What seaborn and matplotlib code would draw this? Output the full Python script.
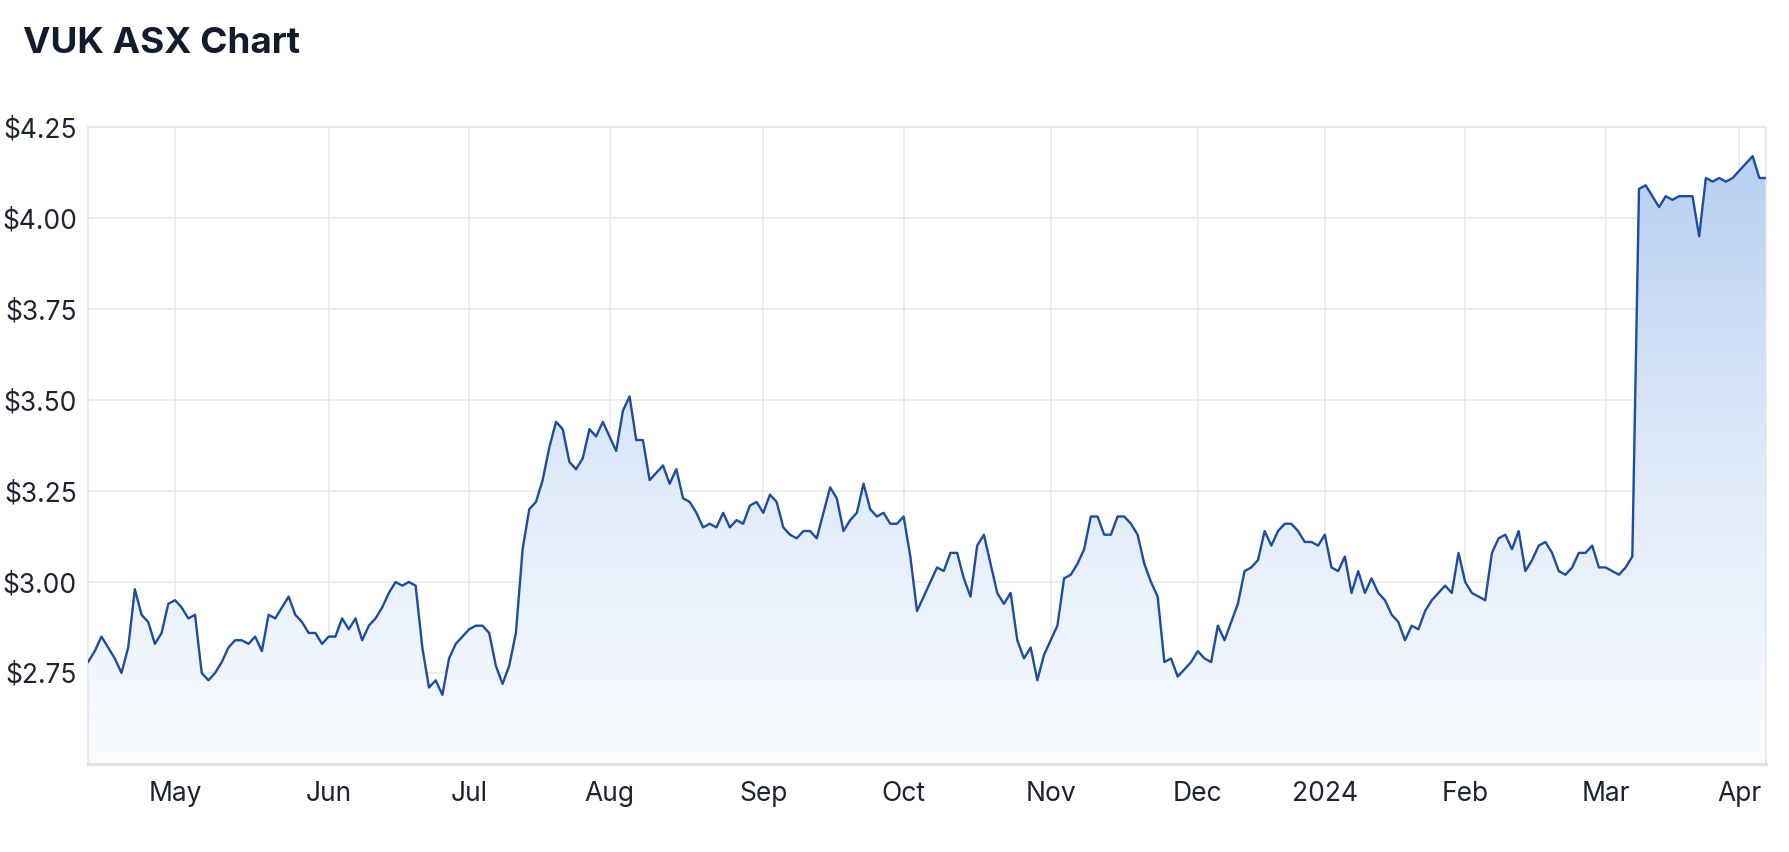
import numpy as np
import pandas as pd
import seaborn as sns
import matplotlib.pyplot as plt
from matplotlib.colors import LinearSegmentedColormap

# ASX trading days, 11 Apr 2023 - 8 Apr 2024
holidays = ['2023-04-25', '2023-06-12', '2023-12-25', '2023-12-26',
            '2024-01-01', '2024-01-26', '2024-03-29', '2024-04-01']

apr23 = [2.78, 2.81, 2.85, 2.82, 2.79, 2.75, 2.82, 2.98, 2.91, 2.89, 2.83, 2.86, 2.94]
may23 = [2.95, 2.93, 2.90, 2.91, 2.75, 2.73, 2.75, 2.78, 2.82, 2.84, 2.84, 2.83,
         2.85, 2.81, 2.91, 2.90, 2.93, 2.96, 2.91, 2.89, 2.86, 2.86, 2.83]
jun23 = [2.85, 2.85, 2.90, 2.87, 2.90, 2.84, 2.88, 2.90, 2.93, 2.97, 3.00, 2.99,
         3.00, 2.99, 2.82, 2.71, 2.73, 2.69, 2.79, 2.83, 2.85]
jul23 = [2.87, 2.88, 2.88, 2.86, 2.77, 2.72, 2.77, 2.86, 3.09, 3.20, 3.22, 3.28,
         3.37, 3.44, 3.42, 3.33, 3.31, 3.34, 3.42, 3.40, 3.44]
aug23 = [3.40, 3.36, 3.47, 3.51, 3.39, 3.39, 3.28, 3.30, 3.32, 3.27, 3.31, 3.23,
         3.22, 3.19, 3.15, 3.16, 3.15, 3.19, 3.15, 3.17, 3.16, 3.21, 3.22]
sep23 = [3.19, 3.24, 3.22, 3.15, 3.13, 3.12, 3.14, 3.14, 3.12, 3.19, 3.26, 3.23,
         3.14, 3.17, 3.19, 3.27, 3.20, 3.18, 3.19, 3.16, 3.16]
oct23 = [3.18, 3.07, 2.92, 2.96, 3.00, 3.04, 3.03, 3.08, 3.08, 3.01, 2.96, 3.10,
         3.13, 3.05, 2.97, 2.94, 2.97, 2.84, 2.79, 2.82, 2.73, 2.80]
nov23 = [2.84, 2.88, 3.01, 3.02, 3.05, 3.09, 3.18, 3.18, 3.13, 3.13, 3.18, 3.18,
         3.16, 3.13, 3.05, 3.00, 2.96, 2.78, 2.79, 2.74, 2.76, 2.78]
dec23 = [2.81, 2.79, 2.78, 2.88, 2.84, 2.89, 2.94, 3.03, 3.04, 3.06, 3.14, 3.10,
         3.14, 3.16, 3.16, 3.14, 3.11, 3.11, 3.10]
jan24 = [3.13, 3.04, 3.03, 3.07, 2.97, 3.03, 2.97, 3.01, 2.97, 2.95, 2.91, 2.89,
         2.84, 2.88, 2.87, 2.92, 2.95, 2.97, 2.99, 2.97, 3.08]
feb24 = [3.00, 2.97, 2.96, 2.95, 3.08, 3.12, 3.13, 3.09, 3.14, 3.03, 3.06, 3.10,
         3.11, 3.08, 3.03, 3.02, 3.04, 3.08, 3.08, 3.10, 3.04]
mar24 = [3.04, 3.03, 3.02, 3.04, 3.07, 4.08, 4.09, 4.06, 4.03, 4.06, 4.05, 4.06,
         4.06, 4.06, 3.95, 4.11, 4.10, 4.11, 4.10, 4.11]
apr24 = [4.13, 4.15, 4.17, 4.11, 4.11]

prices = (apr23 + may23 + jun23 + jul23 + aug23 + sep23 + oct23 + nov23 +
          dec23 + jan24 + feb24 + mar24 + apr24)
dates = pd.bdate_range('2023-04-11', '2024-04-08', freq='C', holidays=holidays)

y_ticks = [2.75, 3.00, 3.25, 3.50, 3.75, 4.00, 4.25]

df = pd.DataFrame({'date': dates, 'price': prices})
df['pos'] = np.arange(len(df))

# first trading day of each month -> tick
starts = df.groupby(df['date'].dt.to_period('M')).head(1).iloc[1:]
tick_pos = starts['pos'].tolist()
tick_lab = [d.strftime('%Y') if d.month == 1 else d.strftime('%b') for d in starts['date']]

sns.set_style('white')
plt.rcParams['font.family'] = ['Inter', 'DejaVu Sans']

fig = plt.figure(figsize=(17.9, 8.52), dpi=100)
ax = fig.add_axes([0.0492, 0.1033, 0.9374, 0.7476])

ymin, ymax = 2.5, 4.25
xmax = df['pos'].iloc[-1]

# gradient area under the line
poly = ax.fill_between(df['pos'], df['price'], ymin, color='none', lw=0)
cmap = LinearSegmentedColormap.from_list('blu', ['#fafcff', '#dce8f9', '#b4cdf1'])
grad = np.linspace(1, 0, 256).reshape(-1, 1)
img = ax.imshow(grad, extent=[0, xmax, ymin, ymax], aspect='auto', cmap=cmap,
                origin='upper', zorder=1)
img.set_clip_path(poly.get_paths()[0], transform=ax.transData)

sns.lineplot(data=df, x='pos', y='price', ax=ax, color='#1b4da0', lw=1.7, zorder=3)

ax.set_xlim(0, xmax)
ax.set_ylim(ymin, ymax)
ax.set_xticks(tick_pos)
ax.set_xticklabels(tick_lab)
ax.set_yticks(y_ticks)
ax.set_yticklabels([f'${v:.2f}' for v in y_ticks])
ax.set_xlabel('')
ax.set_ylabel('')

ax.grid(True, color='#e9e9e9', lw=1.2, zorder=0)
ax.set_axisbelow(True)
for s in ['left', 'right', 'top']:
    ax.spines[s].set_color('#e6e6e6')
    ax.spines[s].set_linewidth(1.2)
ax.spines['bottom'].set_color('#dedede')
ax.spines['bottom'].set_linewidth(2)
ax.tick_params(axis='both', length=0, labelsize=19, colors='#1f2330')
ax.tick_params(axis='x', pad=12)
ax.tick_params(axis='y', pad=8)

fig.text(0.013, 0.968, 'VUK ASX Chart', fontsize=26.5, fontweight='bold',
         color='#141b2d', va='top', ha='left')

fig.savefig('out.png', dpi=100)
